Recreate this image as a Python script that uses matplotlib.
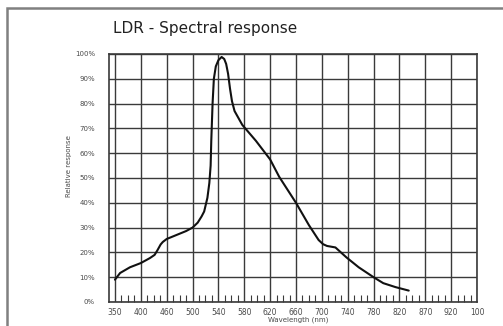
"""LDR spectral response curve, redrawn from a datasheet scan."""

import matplotlib
matplotlib.use("Agg")
import matplotlib.pyplot as plt
from matplotlib.patches import Rectangle
from matplotlib.ticker import FixedLocator, FixedFormatter
import numpy as np

# grid wavelengths as printed on the datasheet (spacing is not uniform)
tick_nm = [350, 400, 460, 500, 540, 580, 620, 660, 700, 740, 780, 820, 870, 920, 1000]
tick_labels = ["350", "400", "460", "500", "540", "580", "620", "660",
               "700", "740", "780", "820", "870", "920", "100"]
pct_ticks = list(range(0, 101, 10))
pct_labels = [f"{v}%" for v in pct_ticks]

# curve
wavelength = [350, 360, 379, 400, 421, 432, 439, 446, 451, 460, 475, 490, 500,
              508, 514, 518, 523, 526, 528, 529, 531, 533, 536, 540, 545, 549,
              552, 555, 558, 561, 565, 577, 598, 620, 634, 660, 680, 695, 702,
              708, 721, 738, 757, 780, 795, 814, 838]
response = [9.0, 11.7, 14.0, 15.7, 17.7, 19.0, 21.0, 23.2, 24.2, 25.4, 27.0,
            28.6, 30.0, 32.0, 34.5, 36.5, 42.0, 48.0, 55.0, 65.0, 80.0, 90.0,
            95.0, 97.5, 98.8, 98.0, 96.0, 92.0, 86.0, 81.0, 77.0, 71.4, 65.0,
            57.5, 50.5, 40.0, 31.0, 25.0, 23.3, 22.6, 22.0, 18.0, 14.0, 10.0,
            7.6, 6.0, 4.6]

# piecewise-linear axis so each printed grid step has the same width
_nm = np.array([300.0] + tick_nm + [1100.0])
_pos = np.array([-1.0] + list(range(len(tick_nm))) + [len(tick_nm)])


def forward(x):
    return np.interp(x, _nm, _pos)


def inverse(p):
    return np.interp(p, _pos, _nm)


minor_nm = []
for a, b in zip(tick_nm[:-1], tick_nm[1:]):
    minor_nm += [a + (b - a) * k / 4 for k in (1, 2, 3)]

grid_color = "#3a3a3a"
text_color = "#4a4a4a"

fig = plt.figure(figsize=(5.03, 3.26), dpi=100)
fig.patch.set_facecolor("white")
ax = fig.add_axes([109 / 503, 1 - 302 / 326, 368 / 503, 248 / 326])
ax.set_xscale("function", functions=(forward, inverse))
ax.set_xlim(inverse(-0.23), 1000)
ax.set_ylim(0, 100)

ax.xaxis.set_major_locator(FixedLocator(tick_nm))
ax.xaxis.set_major_formatter(FixedFormatter(tick_labels))
ax.xaxis.set_minor_locator(FixedLocator(minor_nm))
ax.yaxis.set_major_locator(FixedLocator(pct_ticks))
ax.yaxis.set_major_formatter(FixedFormatter(pct_labels))
ax.yaxis.set_minor_locator(FixedLocator([]))

ax.grid(True, which="major", color=grid_color, linewidth=1.0)
ax.set_axisbelow(True)
ax.tick_params(axis="x", which="major", length=0, pad=4, labelsize=5.5, labelcolor=text_color)
ax.tick_params(axis="x", which="minor", direction="in", length=5, width=0.8, color=grid_color)
ax.tick_params(axis="y", which="major", length=0, pad=10, labelsize=5, labelcolor=text_color)
for spine in ax.spines.values():
    spine.set_color(grid_color)
    spine.set_linewidth(1.2)

ax.plot(wavelength, response, color="#111111", linewidth=1.5, solid_capstyle="round")

ax.set_xlabel("Wavelength (nm)", fontsize=5, color=text_color, labelpad=3)
ax.xaxis.set_label_coords(0.513, -0.06)
ax.set_ylabel("Relative response", fontsize=5, color=text_color)
ax.yaxis.set_label_coords(-0.1, 0.55)

fig.text(113 / 503, 1 - 28 / 326, "LDR - Spectral response", fontsize=11,
         color="#222222", va="center", ha="left")

# outer frame of the scanned page
fig.patches.append(Rectangle((7 / 503, -0.1), 1.2, 1 - 8 / 326 + 0.1,
                             transform=fig.transFigure, fill=False,
                             edgecolor="#808080", linewidth=1.8))

fig.savefig("out.png", dpi=100, facecolor="white")
